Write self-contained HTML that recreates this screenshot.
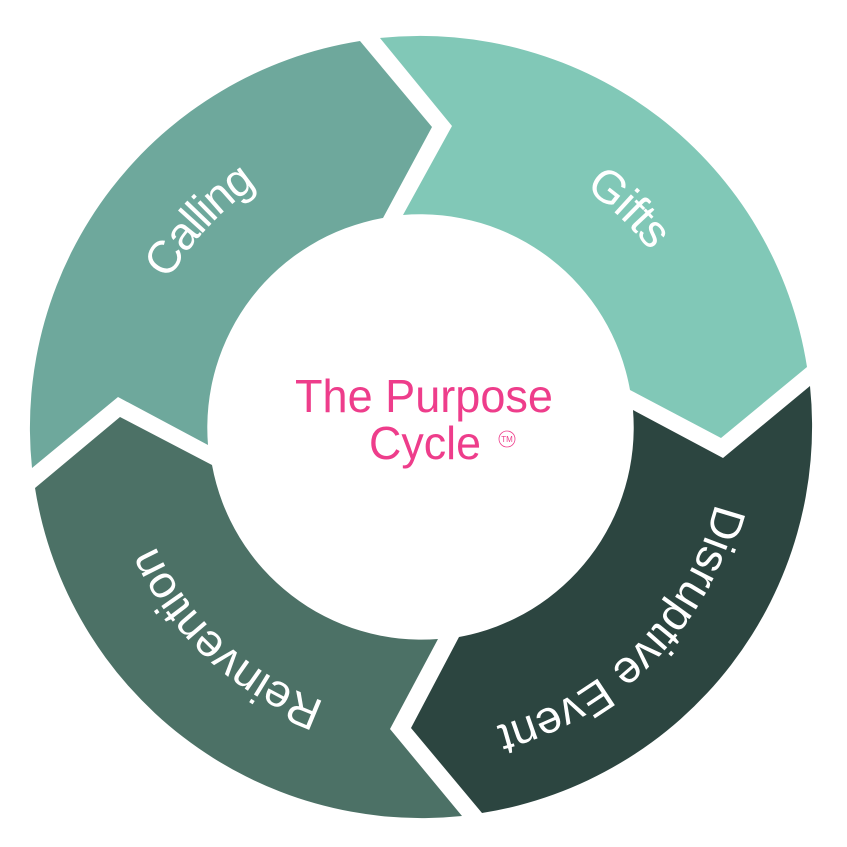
<!DOCTYPE html>
<html>
<head>
<meta charset="utf-8">
<style>
html,body{margin:0;padding:0;background:#fff;width:847px;height:847px;overflow:hidden}
svg{display:block}
text{font-family:"Liberation Sans",sans-serif}
</style>
</head>
<body>
<svg width="847" height="847" viewBox="0 0 847 847" xmlns="http://www.w3.org/2000/svg">
<defs>
<path id="cg" d="M421 716A289 289 0 0 1 421 138A289 289 0 0 1 421 716Z" fill="none"/>
<path id="cc" d="M421 719A292 292 0 0 1 421 135A292 292 0 0 1 421 719Z" fill="none"/>
<path id="cr" d="M421 718A291 291 0 0 1 421 136A291 291 0 0 1 421 718Z" fill="none"/>
<path id="cd" d="M421 732A305 305 0 0 1 421 122A305 305 0 0 1 421 732Z" fill="none"/>
</defs>
<path fill="#81c8b7" d="M380 38A391.5 391.5 0 0 1 807 367L721 438L630 390A213 213 0 0 0 403 215L452 126Z"/>
<path fill="#6ea89c" d="M360 41A391.5 391.5 0 0 0 32 468L118 397L208 445A213 213 0 0 1 383 218L432 127Z"/>
<path fill="#4c7166" d="M35 488L120 417L212 465A213 213 0 0 0 438 639L390 729L462 816A391.5 391.5 0 0 1 35 488Z"/>
<path fill="#2c4540" d="M459 637A213 213 0 0 0 633 410L723 458L810 386A391.5 391.5 0 0 1 482 813L411 728Z"/>
<g fill="#fff" font-size="46" text-anchor="middle">
<g transform="rotate(43.5 421 427)"><text><textPath href="#cg" startOffset="50%" textLength="91">Gifts</textPath></text></g>
<g transform="rotate(-47 421 427)"><text><textPath href="#cc" startOffset="50%" textLength="131">Calling</textPath></text></g>
<g transform="translate(-2 4) rotate(134.5 421 427)"><text><textPath href="#cd" startOffset="50%" textLength="328">Disruptive Event</textPath></text></g>
<g transform="rotate(222.6 421 427)"><text><textPath href="#cr" startOffset="50%" textLength="237">Reinvention</textPath></text></g>
</g>
<g fill="#ee3d8b">
<text x="295" y="412" font-size="46" textLength="258" lengthAdjust="spacingAndGlyphs">The Purpose</text>
<text x="369" y="459" font-size="46" textLength="112" lengthAdjust="spacingAndGlyphs">Cycle</text>
<circle cx="507" cy="439" r="8" fill="none" stroke="#ee3d8b" stroke-width="0.8"/>
<text x="507" y="442" font-size="8" text-anchor="middle">TM</text>
</g>
</svg>
</body>
</html>
